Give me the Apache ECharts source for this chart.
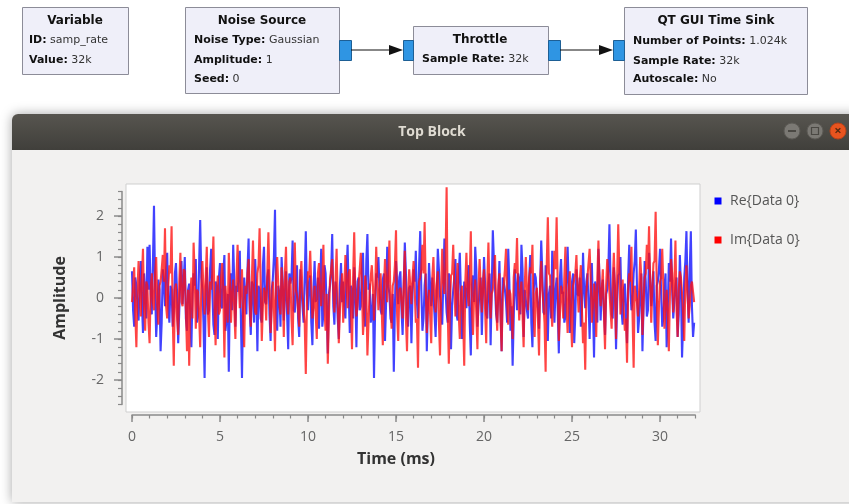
<!DOCTYPE html>
<html><head><meta charset="utf-8">
<script src="https://cdn.jsdelivr.net/npm/echarts@6/dist/echarts.min.js"></script>
<style>html,body{margin:0;padding:0;background:#fff}#c{width:849px;height:504px}#err{position:absolute;left:20px;top:160px;width:800px;font:11px monospace;color:#000;white-space:pre-wrap;z-index:9}</style>
</head><body><div id="c"></div><div id="err"></div>
<script>
// ---- data ----
const timeStepMs = 0.0625; // one plotted sample every 0.0625 ms
const seriesNames = ['Re{Data 0}', 'Im{Data 0}'];
const reValues = [
 0.65,-0.3,-0.7,0.5,0.3,-0.2,-0.55,0.4,0.9,-0.1,-0.85,0.6,0.1,-0.5,1.25,0.2,1.3,0.1,-0.4,0.8,2.25,0.3,-0.95,-0.4,0.45,0.2,-1.3,-0.6,0.7,0.4,-0.2,0.7,
 1.1,-0.2,-0.6,0.3,0.2,-0.7,-0.35,0.6,0.85,0.1,-1.1,-0.3,0.55,0.9,-0.15,0.4,1.0,-0.5,-0.8,0.2,0.35,-0.4,-1.2,0.1,0.6,0.3,0.95,-0.6,-0.45,0.8,1.9,0.5,
 0.2,-0.6,-1.95,0.1,0.75,-0.4,-0.3,0.7,1.2,0.2,-0.65,-0.9,0.4,0.3,-1.0,0.5,0.85,-0.2,-0.25,0.6,1.05,-0.8,-0.5,0.1,-1.8,0.2,0.6,-0.3,1.3,0.4,-0.7,0.3,
 0.15,0.6,1.15,-0.5,-1.95,-0.2,0.5,0.1,-0.4,0.7,1.45,-0.3,-0.9,0.4,0.3,-0.6,0.95,0.2,-1.3,0.3,0.2,-0.5,-0.6,0.8,1.25,-0.1,-0.15,0.5,0.7,-0.4,-1.05,0.2,
 0.45,1.0,2.15,-0.2,-0.8,0.3,0.1,-0.7,1.0,0.4,-0.55,0.1,0.65,-0.4,-1.25,0.6,0.35,0.5,1.4,-0.3,-0.35,0.2,0.8,-0.5,-0.95,0.7,0.25,-0.2,-0.6,0.5,1.63,0.1,
 -0.3,0.4,0.55,-0.6,-1.15,0.2,0.9,-0.1,0.05,0.5,-0.75,0.3,1.2,-0.7,-0.4,0.8,0.6,-0.3,-1.35,0.1,0.3,0.6,1.56,-0.2,-0.65,0.4,0.15,-0.5,-1.0,0.3,0.85,-0.1,
 0.4,-0.2,-0.5,0.6,1.3,0.1,-0.85,0.3,0.2,-0.5,0.75,0.2,-1.2,0.4,0.5,-0.3,-0.2,0.7,1.1,-0.4,-0.7,0.9,1.56,0.2,0.35,-0.6,-0.45,0.1,-1.95,-0.3,0.6,0.5,
 1.0,0.2,-0.3,-0.4,0.45,0.6,-1.05,-0.1,1.25,0.3,0.1,-0.5,-0.6,0.1,-1.8,-0.2,0.9,0.4,-0.15,0.5,0.65,-0.3,-0.9,0.2,1.35,0.6,-0.4,-0.7,0.25,0.3,-1.1,0.1,
 0.7,0.4,1.15,-0.1,-0.5,0.8,1.63,0.2,-0.8,-0.5,0.3,0.6,-1.3,-0.2,0.85,0.3,-0.2,0.5,0.5,-0.4,-0.95,0.1,1.2,0.7,0.05,-0.3,-0.65,0.4,1.45,0.2,-0.35,-0.6,
 0.6,0.3,-1.25,-0.2,0.2,0.5,0.95,-0.4,-0.55,0.6,1.1,0.1,-1.0,-0.3,0.4,0.2,-0.25,0.4,0.8,-0.6,-1.4,0.3,0.55,-0.1,1.25,0.7,-0.7,-0.2,0.15,0.5,-0.9,0.1,
 1.0,0.3,-0.4,-0.5,0.35,0.6,-1.15,0.2,1.65,0.9,0.25,-0.4,-0.6,0.1,0.9,-0.3,-1.3,0.5,0.5,0.2,-0.1,-0.6,1.2,0.4,-0.8,-0.2,-1.65,-0.5,0.7,0.3,-0.3,0.6,
 0.45,-0.4,1.3,0.7,-0.95,0.2,0.2,-0.3,-0.5,0.4,1.05,-0.6,-1.2,0.1,0.6,0.5,0.1,-0.2,-0.75,0.3,1.4,0.6,-0.35,-0.4,0.8,0.2,-1.05,0.1,0.3,-0.5,1.15,0.4,
 -0.6,0.2,0.5,-0.3,-1.35,0.5,0.95,0.1,0.15,-0.6,-0.45,0.4,1.25,0.3,-0.85,-0.2,0.4,0.6,-1.1,-0.4,0.7,0.1,0.05,0.5,-0.7,-0.3,1.1,0.2,-0.25,0.4,0.6,-0.1,
 -1.0,0.3,0.85,-0.2,-1.45,0.4,0.3,-0.6,1.2,0.5,-0.55,0.2,0.45,-0.3,-0.9,0.1,0.2,0.7,1.8,0.4,-0.4,-0.5,0.75,0.3,-1.25,-0.1,0.55,0.6,1.0,-0.3,-0.65,0.2,
 0.35,-0.4,-1.1,0.5,1.3,0.2,-0.3,-0.1,0.6,0.9,1.67,0.3,-0.85,-0.5,0.15,0.6,-1.3,-0.2,0.9,0.4,-0.45,-0.3,1.1,0.5,-0.2,0.2,0.65,-0.6,-1.05,0.3,0.4,0.7,
 1.2,0.1,-0.7,-0.5,0.25,0.6,-1.2,-0.3,0.85,0.4,1.45,0.2,-0.5,-0.1,0.3,0.5,-0.95,-0.4,1.05,0.3,-1.45,-0.6,0.5,0.9,1.63,0.2,-0.6,0.7,1.63,-0.2,-0.95,-0.6
];
const imValues = [
 -0.1,0.3,0.75,-0.4,-1.2,0.2,0.9,0.1,-0.45,0.5,1.2,-0.3,-0.8,0.4,0.3,-0.6,-1.1,0.2,0.6,-0.1,-0.3,0.6,1.0,-0.2,-0.65,0.3,0.4,0.7,1.05,0.4,1.7,-0.2,
 -0.5,0.3,0.8,0.6,1.75,-0.4,-1.65,0.2,0.35,-0.5,-0.9,0.4,1.1,-0.1,-0.2,0.7,0.65,-0.3,-1.3,0.2,-1.65,0.1,0.5,-0.5,1.35,0.6,-0.75,0.2,0.15,-0.4,-1.2,0.3,
 0.9,0.2,-0.4,0.5,1.25,-0.3,-0.95,0.4,0.2,0.6,1.5,-0.2,-1.15,0.1,0.55,-0.4,-0.3,0.5,0.85,0.2,-1.45,0.3,0.3,-0.6,1.1,0.4,-0.6,0.1,0.45,-0.3,-1.0,0.5,
 1.3,0.4,-0.25,0.2,0.7,-0.5,-1.2,0.3,0.1,0.6,0.95,-0.1,-0.7,0.5,1.4,0.2,-0.35,-0.4,0.6,0.8,1.7,0.3,-1.05,-0.2,0.25,0.1,-0.55,0.6,1.6,0.4,-0.85,-0.3,
 0.4,-0.2,-1.3,0.5,1.0,0.3,-0.15,-0.4,0.75,0.2,-0.95,0.6,1.25,-0.1,-0.4,0.4,0.5,-0.5,-1.15,0.3,1.35,0.2,0.05,-0.3,-0.7,0.5,0.9,0.1,-0.3,-0.6,-1.85,-0.2,
 0.65,0.5,1.15,0.3,-0.5,-0.2,0.3,-0.4,-1.0,0.6,0.85,0.2,-0.2,0.4,1.3,-0.3,-0.8,0.1,-1.6,-0.5,0.45,0.7,0.95,0.2,-0.35,0.4,1.2,-0.1,-1.1,-0.3,0.2,0.6,
 -0.6,0.2,1.05,0.4,-0.25,0.6,0.7,-0.3,-1.25,0.5,1.6,0.1,-0.45,-0.2,0.35,0.7,1.1,0.3,-0.9,-0.4,0.55,0.2,-1.4,-0.6,0.15,0.5,0.8,0.3,-0.55,0.1,1.25,0.4,
 -0.3,0.1,0.6,-0.3,-1.15,0.2,0.95,0.5,-0.1,0.6,1.4,-0.2,-0.75,0.3,0.4,0.8,1.65,-0.4,-1.05,0.2,0.25,-0.1,-0.5,0.4,1.15,-0.5,-1.3,0.1,0.7,0.3,-0.15,0.5,
 0.9,0.2,-0.6,-0.5,-1.7,0.4,0.5,0.7,1.3,0.6,1.85,0.3,-0.85,-0.2,0.2,-0.4,-1.1,0.5,1.0,0.1,-0.35,0.3,0.65,-0.6,-1.4,0.2,1.2,0.4,0.1,0.9,2.7,-0.3,
 -1.6,-0.2,0.55,0.6,1.3,0.3,-0.45,0.2,0.85,-0.4,-1.0,0.1,0.3,-0.5,-1.65,0.4,1.1,0.2,-0.2,0.5,1.63,-0.3,-0.9,0.1,0.45,-0.4,-1.25,0.3,0.95,0.2,-0.35,0.4,
 0.7,-0.3,-1.1,0.4,1.35,0.2,-0.5,0.1,0.2,0.6,1.05,-0.2,-0.8,0.3,0.6,-0.5,-1.3,0.1,0.35,0.7,1.2,-0.1,-0.65,0.2,0.1,-0.4,-1.0,0.5,0.85,0.6,1.46,0.2,
 -0.55,0.1,0.4,-0.4,-1.2,0.3,1.0,0.2,-0.3,0.5,0.75,0.6,1.3,-0.3,-0.95,0.1,0.25,-0.5,-1.4,0.4,0.9,0.2,-0.15,-0.6,-1.8,0.8,1.97,0.6,0.55,-0.2,-0.7,0.3,
 1.15,0.7,1.97,0.3,-1.05,-0.4,0.3,0.1,-0.5,0.5,1.25,-0.2,-0.85,0.2,0.65,-0.5,-1.2,0.3,0.45,0.6,1.05,0.2,-0.35,0.4,0.8,-0.3,-1.1,-0.6,-1.75,0.1,0.5,0.5,
 1.2,0.4,-0.6,-0.2,0.35,0.1,-0.95,0.5,1.4,0.3,-0.2,0.2,0.7,-0.4,-1.25,0.3,0.95,0.6,0.15,-0.3,-0.75,0.4,1.1,0.2,-1.0,0.5,1.8,0.7,-0.4,0.1,0.45,-0.3,
 -0.8,-0.5,-1.58,0.2,0.6,0.4,1.25,-0.4,-1.7,0.3,0.3,-0.1,-0.45,0.2,1.0,0.5,-0.9,-0.2,0.5,0.6,1.3,0.7,1.75,0.4,-0.6,0.2,0.85,0.9,2.1,0.3,-1.15,-0.2,
 0.4,0.5,1.2,0.3,-0.75,-0.2,0.2,-0.4,-1.3,0.1,0.95,0.6,-0.35,0.3,1.4,-0.3,-0.95,0.2,0.65,0.5,0.1,-0.4,-1.05,0.3,0.8,0.1,-0.5,-0.2,0.3,0.4,0.15,-0.1
];
const xTickStep = 5;     // ms between labelled ticks
const xMinorStep = 1;    // ms between minor ticks
const yTickStep = 1;
const yMinorStep = 0.2;

// ---- chart ----
const reData = reValues.map((v, i) => [i * timeStepMs, v]);
const imData = imValues.map((v, i) => [i * timeStepMs, v]);

const UI = 'Open Sans';
const GRC = 'DejaVu Sans';
const axisGray = '#8a8a8a';
const PX_X = 17.6;
const PX_Y = 41;
const X0 = 132;
const Y0 = 298;

function blockText(x, y, label, value) {
  return {
    type: 'text', x: x, y: y,
    style: {
      text: '{b|' + label + '}{n| ' + value + '}',
      verticalAlign: 'middle', align: 'left',
      rich: {
        b: { fontFamily: GRC, fontSize: 11, fontWeight: 'bold', fill: '#111' },
        n: { fontFamily: GRC, fontSize: 11, fontWeight: 'normal', fill: '#333' }
      }
    }, z: 10
  };
}
function blockTitle(x, y, t) {
  return { type: 'text', x: x, y: y, style: { text: t, align: 'center', verticalAlign: 'middle',
    fontFamily: GRC, fontSize: 12, fontWeight: 'bold', fill: '#111' }, z: 10 };
}
function box(x, y, w, h) {
  return { type: 'rect', shape: { x: x + 0.5, y: y + 0.5, width: w, height: h },
    style: { fill: '#efeff9', stroke: '#8c8c98', lineWidth: 1 }, z: 5 };
}
function port(x, y, w, h) {
  return { type: 'rect', shape: { x: x + 0.5, y: y + 0.5, width: w, height: h },
    style: { fill: '#2f95e3', stroke: '#1d5f95', lineWidth: 1 }, z: 6 };
}
function arrow(x1, x2, y) {
  return [
    { type: 'line', shape: { x1: x1, y1: y, x2: x2 - 12, y2: y }, style: { stroke: '#111', lineWidth: 1.2 }, z: 6 },
    { type: 'polygon', shape: { points: [[x2 - 14, y - 5], [x2, y], [x2 - 14, y + 5]] }, style: { fill: '#111' }, z: 6 }
  ];
}
function legendItem(y, color, name) {
  return [
    { type: 'rect', shape: { x: 714.5, y: y - 3.5, width: 7, height: 7 }, style: { fill: color }, z: 10 },
    { type: 'text', x: 730, y: y, style: { text: name, align: 'left', verticalAlign: 'middle',
      fontFamily: UI, fontSize: 14, fill: '#555' }, z: 10 }
  ];
}

const graphics = [
  { type: 'rect', shape: { x: 12, y: 114, width: 850, height: 388, r: [6, 6, 0, 0] },
    style: { fill: '#f2f1f0', shadowBlur: 12, shadowColor: 'rgba(0,0,0,0.35)' }, z: -20 },
  { type: 'rect', shape: { x: 12, y: 114, width: 850, height: 36, r: [6, 6, 0, 0] },
    style: { fill: { type: 'linear', x: 0, y: 0, x2: 0, y2: 1,
      colorStops: [{ offset: 0, color: '#57554f' }, { offset: 1, color: '#403f3b' }] } }, z: -19 },
  { type: 'text', x: 432, y: 132, style: { text: 'Top Block', align: 'center', verticalAlign: 'middle',
    fontFamily: UI, fontSize: 14, fontWeight: 'bold', fill: '#dfdbd2' }, z: -18 },
  { type: 'circle', shape: { cx: 792, cy: 131, r: 8 }, style: { fill: '#7b7974', stroke: '#5c5a55' }, z: -18 },
  { type: 'rect', shape: { x: 788, y: 130, width: 8, height: 2 }, style: { fill: '#4a4843' }, z: -17 },
  { type: 'circle', shape: { cx: 815, cy: 131, r: 8 }, style: { fill: '#7b7974', stroke: '#5c5a55' }, z: -18 },
  { type: 'rect', shape: { x: 811.5, y: 127.5, width: 7, height: 7 }, style: { fill: 'none', stroke: '#4a4843', lineWidth: 1.2 }, z: -17 },
  { type: 'circle', shape: { cx: 838, cy: 131, r: 8 }, style: { fill: '#e9541f', stroke: '#b8421a' }, z: -18 },
  { type: 'text', x: 838, y: 131, style: { text: '×', align: 'center', verticalAlign: 'middle',
    fontFamily: UI, fontSize: 13, fontWeight: 'bold', fill: '#5a2a10' }, z: -17 },
  box(22, 7, 106, 67),
  blockTitle(75, 21, 'Variable'),
  blockText(29, 40, 'ID:', 'samp_rate'),
  blockText(29, 60, 'Value:', '32k'),
  box(185, 7, 154, 86),
  blockTitle(262, 21, 'Noise Source'),
  blockText(194, 40, 'Noise Type:', 'Gaussian'),
  blockText(194, 60, 'Amplitude:', '1'),
  blockText(194, 79, 'Seed:', '0'),
  port(339, 40, 12, 20),
  ...arrow(351, 403, 50),
  port(403, 40, 10, 20),
  box(413, 26, 135, 48),
  blockTitle(480, 40, 'Throttle'),
  blockText(422, 59, 'Sample Rate:', '32k'),
  port(548, 40, 12, 20),
  ...arrow(560, 613, 50),
  port(613, 40, 11, 20),
  box(624, 7, 183, 87),
  blockTitle(716, 21, 'QT GUI Time Sink'),
  blockText(633, 41, 'Number of Points:', '1.024k'),
  blockText(633, 61, 'Sample Rate:', '32k'),
  blockText(633, 79, 'Autoscale:', 'No'),
  ...legendItem(201, '#0000ff', seriesNames[0]),
  ...legendItem(240, '#ff0000', seriesNames[1])
];

const hiddenAxis = (g) => ({ gridIndex: g, type: 'value', min: 0, max: 1, show: false });

try {
const chart = echarts.init(document.getElementById('c'), null, { renderer: 'canvas' });
chart.setOption({
  animation: false,
  backgroundColor: '#ffffff',
  grid: [
    { left: 126, top: 184, width: 574, height: 228, show: true, backgroundColor: '#ffffff', borderColor: '#cfcfcf', borderWidth: 1 },
    { left: X0, top: 405, width: 32 * PX_X, height: 10 },
    { left: X0, top: 405, width: 30 * PX_X, height: 10 },
    { left: 122, top: Y0 - 2.6 * PX_Y, width: 10, height: 5.2 * PX_Y },
    { left: 122, top: Y0 - 2 * PX_Y, width: 10, height: 4 * PX_Y }
  ],
  xAxis: [
    { gridIndex: 0, type: 'value', min: -0.34, max: 32.27, show: false },
    { gridIndex: 1, type: 'value', min: 0, max: 32, interval: xMinorStep, position: 'bottom',
      axisLine: { show: true, lineStyle: { color: axisGray, width: 1.5 } },
      axisTick: { show: true, length: 3.5, lineStyle: { color: axisGray, width: 1.2 } },
      axisLabel: { show: false }, splitLine: { show: false } },
    { gridIndex: 2, type: 'value', min: 0, max: 30, interval: xTickStep, position: 'bottom',
      name: 'Time (ms)', nameLocation: 'middle', nameGap: 36,
      nameTextStyle: { fontFamily: UI, fontSize: 16, fontWeight: 'bold', color: '#333' },
      axisLine: { show: false },
      axisTick: { show: true, length: 7, lineStyle: { color: axisGray, width: 1.5 } },
      axisLabel: { show: true, margin: 15, fontFamily: UI, fontSize: 14, color: '#666' },
      splitLine: { show: false } },
    hiddenAxis(3), hiddenAxis(4)
  ],
  yAxis: [
    { gridIndex: 0, type: 'value', min: -2.78, max: 2.78, show: false },
    hiddenAxis(1), hiddenAxis(2),
    { gridIndex: 3, type: 'value', min: -2.6, max: 2.6, interval: yMinorStep, position: 'left',
      axisLine: { show: true, lineStyle: { color: axisGray, width: 1.5 } },
      axisTick: { show: true, length: 4, lineStyle: { color: axisGray, width: 1.2 } },
      axisLabel: { show: false }, splitLine: { show: false } },
    { gridIndex: 4, type: 'value', min: -2, max: 2, interval: yTickStep, position: 'left',
      name: 'Amplitude', nameLocation: 'middle', nameGap: 54, nameRotate: 90,
      nameTextStyle: { fontFamily: UI, fontSize: 16, fontWeight: 'bold', color: '#333' },
      axisLine: { show: false },
      axisTick: { show: true, length: 8, lineStyle: { color: axisGray, width: 1.5 } },
      axisLabel: { show: true, margin: 18, fontFamily: UI, fontSize: 14, color: '#666' },
      splitLine: { show: false } }
  ],
  series: [
    { name: seriesNames[0], type: 'line', xAxisIndex: 0, yAxisIndex: 0, data: reData,
      showSymbol: false, symbol: 'none', color: '#0000ff',
      lineStyle: { color: 'rgba(25,25,255,0.82)', width: 2.1 } },
    { name: seriesNames[1], type: 'line', xAxisIndex: 0, yAxisIndex: 0, data: imData,
      showSymbol: false, symbol: 'none', color: '#ff0000',
      lineStyle: { color: 'rgba(255,15,15,0.78)', width: 2.1 } }
  ]
});
chart.setOption({ graphic: graphics });
} catch (e) {
  document.getElementById('err').textContent = String(e && e.stack || e);
}
</script>
</body></html>
